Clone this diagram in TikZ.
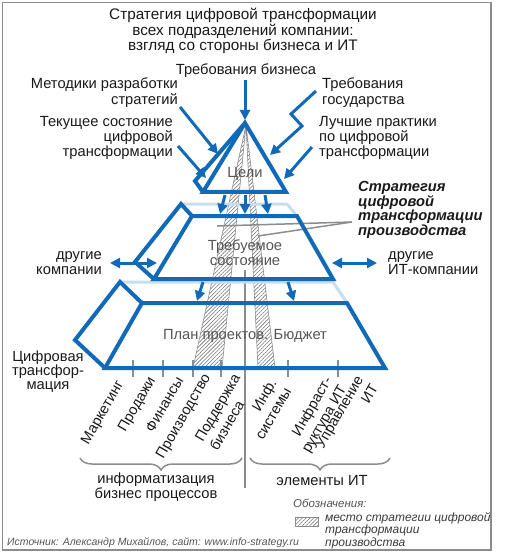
\documentclass[tikz,border=0pt]{standalone}
\usepackage{fontspec}
\setmainfont{Liberation Sans}
\usetikzlibrary{arrows.meta,patterns.meta,decorations.pathreplacing}
\definecolor{dblue}{RGB}{16,106,184}
\definecolor{lblue}{RGB}{200,221,240}
\definecolor{lgray}{RGB}{140,140,140}
\definecolor{hgray}{RGB}{115,115,115}
\definecolor{tgray}{RGB}{85,85,85}
\definecolor{tblack}{RGB}{25,25,25}
\begin{document}
\begin{tikzpicture}[x=1pt,y=-1pt,
  face/.style={draw=dblue,line width=4pt,line join=miter,miter limit=8},
  backedge/.style={draw=lblue,line width=3pt},
  barrow/.style={draw=dblue,line width=3pt,line join=miter,-{Triangle[length=10pt,width=10pt]}},
  dbarrow/.style={draw=dblue,line width=3pt,{Triangle[length=10pt,width=10pt]}-{Triangle[length=10pt,width=10pt]}},
  lbl/.style={inner sep=0pt,font=\fontsize{14.7}{15.3}\selectfont,text=tblack},
  lvl/.style={inner sep=0pt,font=\fontsize{14.7}{15.3}\selectfont,text=tgray},
  rotlbl/.style={inner sep=0pt,font=\fontsize{14.5}{17}\selectfont,text=tblack,rotate=60,anchor=north east,align=right},
  hatch/.style={draw=lgray,line width=0.6pt,pattern={Lines[angle=45,distance=2.7pt,line width=0.55pt]},pattern color=hgray},
  gline/.style={draw=lgray,line width=1.5pt},
  brc/.style={draw=lgray,line width=1.5pt,decorate,decoration={brace,mirror,amplitude=12pt}},
]
\useasboundingbox (0,0) rectangle (506,553);
\draw[draw=lgray,line width=1.5pt] (2.5,2.5) rectangle (491,550);

% hatched strips
\path[hatch] (246,125) -- (193,368) -- (222,368) -- cycle;
\path[hatch] (246,125) -- (258,368) -- (275,368) -- cycle;

% gray vertical divider and leader lines
\coordinate (divT) at (245,270);
\coordinate (divB) at (245,488);
\draw[gline] (divT) -- (divB);
\coordinate (lead) at (352,222);
\coordinate (leadA) at (217,226);
\coordinate (leadB) at (258,236);
\draw[gline] (lead) -- (leadA);
\draw[gline] (lead) -- (leadB);

% ticks
\foreach \t in {133,163,193,221,288,338}{\draw[gline] (\t,360) -- (\t,377);}

% back edges
\draw[backedge] (181,204) -- (287,204) -- (297,216);
\draw[backedge] (120,282) -- (333,282) -- (347,303);

% top pyramid
\draw[face] (245,123) -- (286,192) -- (203,192) -- cycle;
\draw[face] (245,123) -- (195,181) -- (203,192);
% middle
\draw[face] (192,216) -- (297,216) -- (333,279) -- (154,279) -- cycle;
\draw[face] (192,216) -- (181,204) -- (135,262) -- (154,279);
% bottom
\draw[face] (142,303) -- (347,303) -- (385,368) -- (105,368) -- cycle;
\draw[face] (142,303) -- (120,282) -- (75,340) -- (105,368);

% level labels
\node[lvl] (goals) at (245,174) {Цели};
\node[lvl,align=center] (state) at (245,252.5) {Требуемое\\состояние};
\node[lvl] (plan) at (245,336) {План проектов. Бюджет};

% arrows between levels
\draw[barrow] (225,195) -- (220,214);
\draw[barrow] (245,195) -- (245,214);
\draw[barrow] (265,195) -- (268,214);
\draw[barrow] (203,282) -- (197,301);
\draw[barrow] (288,282) -- (294,301);

% title and top labels
\node[lbl,align=center,font=\fontsize{15.3}{15.6}\selectfont] (title) at (243,31)
  {Стратегия цифровой трансформации\\всех подразделений компании:\\взгляд со стороны бизнеса и ИТ};
\node[lbl] (bus) at (246,71) {Требования бизнеса};
\node[lbl,anchor=east,align=right] (meth) at (178,92.5) {Методики разработки\\стратегий};
\node[lbl,anchor=east,align=right] (cur) at (173,138) {Текущее состояние\\цифровой\\трансформации};
\node[lbl,anchor=west,align=left] (gov) at (322,92.5) {Требования\\государства};
\node[lbl,anchor=west,align=left] (best) at (319,138) {Лучшие практики\\по цифровой\\трансформации};
\node[lbl,anchor=west,align=left,font=\fontsize{14.7}{14.7}\selectfont\bfseries\itshape] (strat) at (358,210)
  {Стратегия\\цифровой\\трансформации\\производства};
\node[lbl,anchor=east,align=right] (oth) at (102,263) {другие\\компании};
\node[lbl,anchor=west,align=left] (othit) at (388,263) {другие\\ИТ-компании};
\node[lbl,align=center,font=\fontsize{14.7}{14}\selectfont] (dig) at (48,371.5) {Цифровая\\трансфор-\\мация};

% arrows to the pyramid
\coordinate (busE) at (245,120);
\draw[barrow] (bus.south -| busE) ++(0,2) -- (busE);
\coordinate (methS) at (180,107);
\coordinate (methE) at (218,154);
\draw[barrow] (methS) -- (methE);
\coordinate (curS) at (178,146);
\coordinate (curE) at (206,178);
\draw[barrow] (curS) -- (curE);
\coordinate (govS) at (316,91);
\coordinate (govE) at (270,155);
\draw[barrow] (govS) -- (291,114) -- (302,126) -- (govE);
\coordinate (bestS) at (312,147);
\coordinate (bestE) at (284,179);
\draw[barrow] (bestS) -- (bestE);
\coordinate (othA) at (110,263);
\coordinate (othB) at (157,263);
\draw[dbarrow] (othA) -- (othB);
\coordinate (othitA) at (332,263);
\coordinate (othitB) at (377,263);
\draw[dbarrow] (othitA) -- (othitB);

% rotated column labels
\node[rotlbl] (c1) at (115,379) {Маркетинг};
\node[rotlbl] (c2) at (147,375) {Продажи};
\node[rotlbl] (c3) at (175,375) {Финансы};
\node[rotlbl] (c4) at (202,372) {Производство};
\node[rotlbl,align=left] (c5) at (232,372) {Поддержка\\бизнеса};
\node[rotlbl] (c6) at (268,377) {Инф.\\системы};
\node[rotlbl] (c7) at (323,375) {Инфраст-\\руктура ИТ};
\node[rotlbl] (c8) at (355,374) {Управление\\ИТ};

% braces
\coordinate (b1L) at (80,458);
\coordinate (b1R) at (242,458);
\coordinate (b2L) at (250,458);
\coordinate (b2R) at (390,458);
\draw[brc] (b1L) -- (b1R);
\draw[brc] (b2L) -- (b2R);
\node[lbl,align=center] (proc) at (156,487.5) {информатизация\\бизнес процессов};
\node[lbl] (itel) at (322,481) {элементы ИТ};

% legend
\node[inner sep=0pt,anchor=west,font=\fontsize{11.5}{12}\selectfont\itshape,text=tgray] (legT) at (293,503) {Обозначения:};
\path[hatch] (295,517) rectangle (318,526);
\node[inner sep=0pt,anchor=west,align=left,font=\fontsize{12}{12.5}\selectfont\itshape,text=tblack!85] (legD) at (325,530.5)
  {место стратегии цифровой\\трансформации\\производства};
\node[inner sep=0pt,anchor=west,font=\fontsize{10.5}{12}\selectfont\itshape,text=tgray] (src) at (7,543)
  {Источник: Александр Михайлов, сайт: www.info-strategy.ru};
\end{tikzpicture}
\end{document}
